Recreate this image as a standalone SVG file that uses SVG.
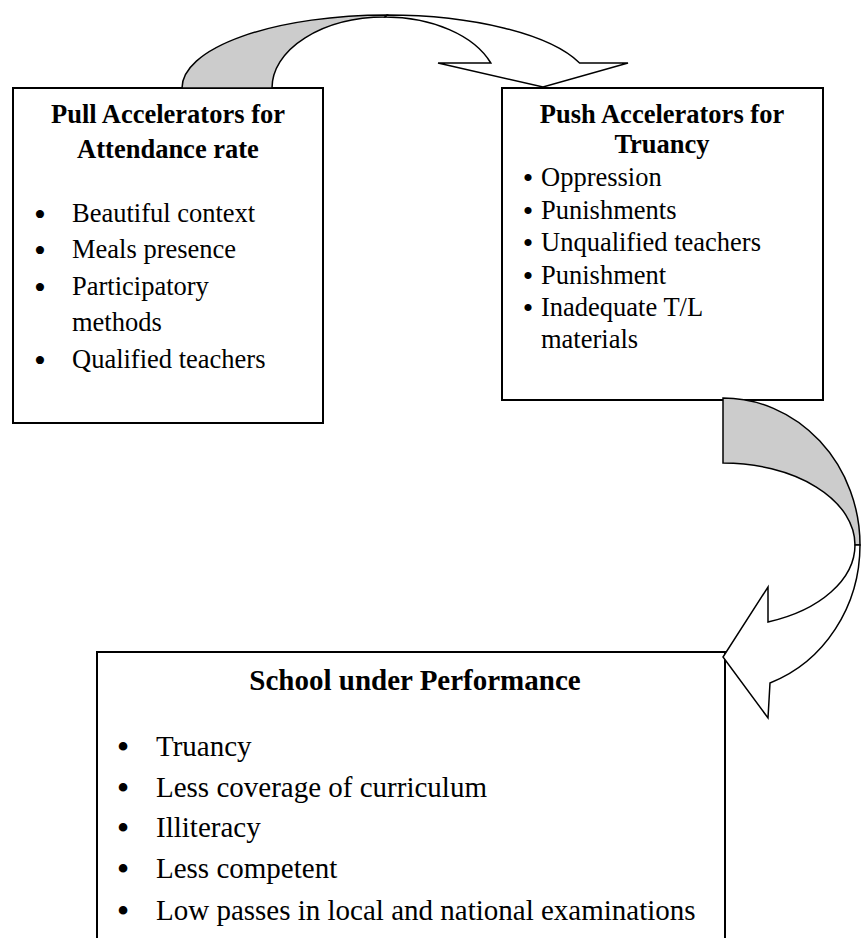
<svg xmlns="http://www.w3.org/2000/svg" width="861" height="938" viewBox="0 0 861 938">
<style>
.box{fill:#fff;stroke:#000;stroke-width:2}
.t{font-family:"Liberation Serif","Times New Roman",serif;fill:#000}
.h{font-weight:bold;text-anchor:middle}
.s{font-size:26.5px}
.l{font-size:29px}
.b{font-size:34px;text-anchor:middle}
.br{font-size:30px;text-anchor:middle}
.bl{font-size:36px;text-anchor:middle}
.back{fill:#cccccc;stroke:#000;stroke-width:1.5;stroke-linejoin:miter}
.front{fill:#fff;stroke:#000;stroke-width:1.5;stroke-linejoin:miter}
</style>
<rect width="861" height="938" fill="#fff"/>
<g id="pull">
<rect class="box" x="13" y="88" width="310" height="335"/>
<text class="t s h" x="168" y="123">Pull Accelerators for</text>
<text class="t s h" x="168" y="158">Attendance rate</text>
<g class="t s">
<text class="b" x="40" y="225.5">•</text><text x="72" y="222">Beautiful context</text>
<text class="b" x="40" y="261.5">•</text><text x="72" y="258">Meals presence</text>
<text class="b" x="40" y="298.5">•</text><text x="72" y="295">Participatory</text>
<text x="72" y="331">methods</text>
<text class="b" x="40" y="371.5">•</text><text x="72" y="368">Qualified teachers</text>
</g>
</g>
<g id="push">
<rect class="box" x="502" y="88" width="321" height="312"/>
<text class="t s h" x="662" y="123">Push Accelerators for</text>
<text class="t s h" x="662" y="153">Truancy</text>
<g class="t s">
<text class="br" x="528" y="188">•</text><text x="541" y="186">Oppression</text>
<text class="br" x="528" y="220.5">•</text><text x="541" y="218.5">Punishments</text>
<text class="br" x="528" y="253">•</text><text x="541" y="251">Unqualified teachers</text>
<text class="br" x="528" y="285.5">•</text><text x="541" y="283.5">Punishment</text>
<text class="br" x="528" y="318">•</text><text x="541" y="316">Inadequate T/L</text>
<text x="541" y="348">materials</text>
</g>
</g>
<g id="school">
<rect class="box" x="97" y="652" width="628" height="300"/>
<text class="t l h" x="415" y="690">School under Performance</text>
<g class="t l">
<text class="bl" x="123" y="759">•</text><text x="156" y="756">Truancy</text>
<text class="bl" x="123" y="800">•</text><text x="156" y="797">Less coverage of curriculum</text>
<text class="bl" x="123" y="840">•</text><text x="156" y="837">Illiteracy</text>
<text class="bl" x="123" y="881">•</text><text x="156" y="878">Less competent</text>
<text class="bl" x="123" y="923">•</text><text x="156" y="920">Low passes in local and national examinations</text>
</g>
</g>
<g id="connectors">
<path class="back" d="M182,88 A205,73 0 0 1 387,15 L385,17 A113,71 0 0 0 272,88 Z"/>
<path class="front" d="M387,15 A205,73 0 0 1 579.6,63 L628,63 L543,87 L438,63 L490.8,63 A113,71 0 0 0 385,17 Z"/>
<path class="back" d="M723,398 A137,147 0 0 1 860,545 L855,545 A132,82 0 0 0 723,463 Z"/>
<path class="front" d="M860,545 A137,147 0 0 1 770,683 L768,718 L723,657 L768,587 L768,622 A132,82 0 0 0 855,545 Z"/>
</g>
</svg>
